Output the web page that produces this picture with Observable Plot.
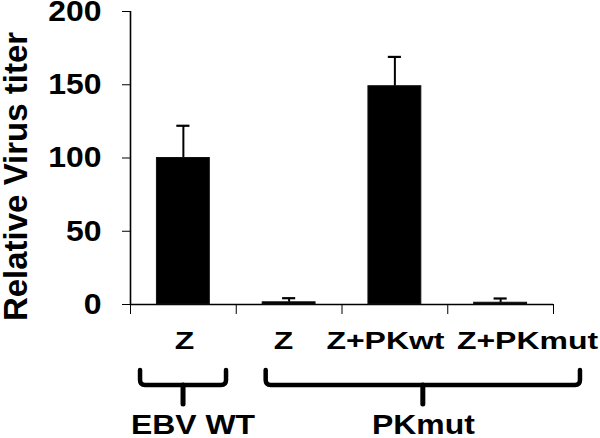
<!DOCTYPE html>
<html>
<head>
<meta charset="utf-8">
<script src="https://cdn.jsdelivr.net/npm/d3@7"></script>
<script src="https://cdn.jsdelivr.net/npm/@observablehq/plot@0.6"></script>
<style>
  html, body { margin: 0; padding: 0; background: #fff; }
</style>
</head>
<body>
<div id="chart"></div>
<script>
// ---- data ----
const categories = ["Z", "Z", "Z+PKwt", "Z+PKmut"];
const titerValues = [100, 1.5, 149, 1.2];
const titerErrors = [22, 2.8, 20, 2.9];
const groupNames = ["EBV WT", "PKmut"];
const yTicks = [0, 50, 100, 150, 200];
const yTitle = "Relative Virus titer";

// ---- layout (not data) ----
const W = 600, H = 438;
const M = {top: 11, right: 47, bottom: 134, left: 130};
const FONT = "'Liberation Sans', Arial, Helvetica, sans-serif";
const CAT_FS = 23.5, GROUP_FS = 28.5, TITLE_FS = 33;
const catLabelShift = [0.01, -0.053, -0.089, 0.254];   // in category units
const bracketSpan = [[0.095, 0.908], [1.283, 4.255]];  // in category units
const groupLabelShift = [0.09, 0];

const table = categories.map((c, i) => ({
  i, cat: c, value: titerValues[i], err: titerErrors[i]
}));
const groups = groupNames.map((g, k) => ({
  k, name: g, mid: (bracketSpan[k][0] + bracketSpan[k][1]) / 2
}));

function bracketMark(index, scales, values, dims) {
  const x = (scales && typeof scales.x === "function")
    ? scales.x
    : d3.scaleLinear([0, categories.length], [M.left, W - M.right]);
  const y0 = dims.height - dims.marginBottom;
  const g = d3.create("svg:g")
    .attr("fill", "none").attr("stroke", "#000")
    .attr("stroke-linejoin", "round").attr("stroke-linecap", "round");
  const top = y0 + 66, bar = y0 + 81, bottom = y0 + 100, r = 5;
  bracketSpan.forEach(([a, b]) => {
    const xa = x(a), xb = x(b), xm = (xa + xb) / 2;
    g.append("path")
      .attr("stroke-width", 4.5)
      .attr("d", `M${xa},${top}V${bar - r}Q${xa},${bar} ${xa + r},${bar}H${xb - r}Q${xb},${bar} ${xb},${bar - r}V${top}`);
    g.append("path")
      .attr("stroke-width", 5)
      .attr("d", `M${xm},${bar}V${bottom}`);
  });
  return g.node();
}

const svg = Plot.plot({
  width: W,
  height: H,
  marginTop: M.top,
  marginRight: M.right,
  marginBottom: M.bottom,
  marginLeft: M.left,
  style: {fontFamily: FONT, fontSize: "29px", fontWeight: "bold", color: "#000", background: "#fff", overflow: "visible"},
  x: {domain: [0, categories.length], ticks: d3.range(categories.length + 1), tickSize: 10, tickFormat: () => "", label: null},
  y: {domain: [0, 200], ticks: yTicks, tickSize: 8, tickPadding: 21, tickFormat: d => String(d), label: null},
  marks: [
    Plot.ruleX([0], {stroke: "#000", strokeWidth: 1.6}),
    Plot.ruleY([0], {stroke: "#000", strokeWidth: 1.6}),
    Plot.ruleX(table, {x: d => d.i + 0.5, y1: "value", y2: d => d.value + d.err, stroke: "#000", strokeWidth: 2}),
    Plot.ruleY(table, {y: d => d.value + d.err, x1: d => d.i + 0.5 - 0.062, x2: d => d.i + 0.5 + 0.062, stroke: "#000", strokeWidth: 2.2}),
    Plot.rect(table, {x1: d => d.i + 0.25, x2: d => d.i + 0.75, y1: 0, y2: "value", fill: "#000", stroke: "#111", strokeWidth: 1}),
    Plot.text(table, {
      x: d => d.i + 0.5 + catLabelShift[d.i], text: "cat",
      frameAnchor: "bottom", textAnchor: "middle", lineAnchor: "bottom", dy: 44,
      fontSize: CAT_FS, fontWeight: "bold", fill: "#000"
    }),
    bracketMark,
    Plot.text(groups, {
      x: d => d.mid + groupLabelShift[d.k], text: "name",
      frameAnchor: "bottom", textAnchor: "middle", lineAnchor: "bottom", dy: 129,
      fontSize: GROUP_FS, fontWeight: "bold", fill: "#000"
    }),
    Plot.text([yTitle], {
      text: d => d, frameAnchor: "left", textAnchor: "middle", rotate: -90, lineAnchor: "bottom",
      dx: -103.5, dy: 18.5, fontSize: TITLE_FS, fontWeight: "bold", fill: "#000"
    })
  ]
});

document.getElementById("chart").append(svg);

function stretchNodes(nodes, k) {
  nodes.forEach(t => {
    const L = t.getComputedTextLength();
    t.setAttribute("textLength", (L * k).toFixed(1));
    t.setAttribute("lengthAdjust", "spacingAndGlyphs");
  });
}
stretchNodes(svg.querySelectorAll(`g[font-size="${CAT_FS}"] text`), 1.36);
stretchNodes(svg.querySelectorAll(`g[font-size="${GROUP_FS}"] text`), 1.12);
const tickStrings = new Set(yTicks.map(String));
stretchNodes(Array.from(svg.querySelectorAll("text")).filter(t =>
  tickStrings.has(t.textContent) && !t.closest(`g[font-size]`)), 1.1);
</script>
</body>
</html>
